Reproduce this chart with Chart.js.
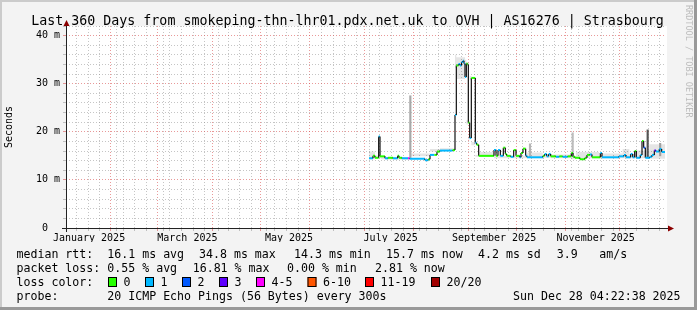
<!DOCTYPE html>
<html>
<head>
<meta charset="utf-8">
<script src="https://cdn.jsdelivr.net/npm/chart.js@4/dist/chart.umd.min.js"></script>
<style>
  body { margin: 0; background: #f3f3f3; }
  canvas { display: block; }
</style>
</head>
<body>
<canvas id="myChart" width="697" height="310"></canvas>
<script>
// ---- data ----
const titleText = 'Last 360 Days from smokeping-thn-lhr01.pdx.net.uk to OVH | AS16276 | Strasbourg';
const xLabels = ['January 2025', 'March 2025', 'May 2025', 'July 2025', 'September 2025', 'November 2025'];
const xLabelMonths = [0, 2, 4, 6, 8, 10];

const lossNames = ['0', '1', '2', '3', '4-5', '6-10', '11-19', '20/20'];
const lossColors = ['#26ff00', '#00b8ff', '#0059ff', '#5e00ff', '#ff00ff', '#ff5500', '#ff0000', '#a10000'];

const rttStats = ['16.1 ms avg', '34.8 ms max', '14.3 ms min', '15.7 ms now', '4.2 ms sd', '3.9', 'am/s'];
const lossStats = ['0.55 % avg', '16.81 % max', '0.00 % min', '2.81 % now'];
const probeText = '20 ICMP Echo Pings (56 Bytes) every 300s';
const dateText = 'Sun Dec 28 04:22:38 2025';

// days since start of the 360 day window, median rtt (ms), lost pings
const medDay  = [181.8, 184.2, 185.4, 187.6, 188.4, 191.4, 193.2, 196.2, 199, 199.8, 201.6, 205.2, 206.2,
                 215.4, 217.4, 218.4, 221, 222.6, 224.4, 232, 233.4, 234.2, 235.5, 236.4, 237.3, 238.2, 238.8,
                 239.4, 240.2, 240.9, 241.4, 242.2, 243.2, 245.6, 246.4, 247.6, 256.8, 258, 259.2, 260.6,
                 262.4, 263.6, 264.4, 266.8, 268.6, 270, 272.2, 273, 274.2, 275.8, 276.6, 286.2, 287.2,
                 288.4, 289.6, 290.8, 294, 296, 298, 301, 303.2, 304.2, 305.4, 308.4, 311.4, 312.6, 314.4,
                 315.6, 320.6, 321.6, 331.8, 334.8, 336, 338.8, 340, 341.2, 342.2, 344.6, 345.6, 346.6,
                 347.6, 350.4, 351.6, 353, 354, 356, 357.4];
const medRtt  = [14.5, 15.0, 14.6, 19.0, 14.9, 14.5, 14.6, 14.5, 15.0, 14.6, 14.5, 14.5, 14.4,
                 14.1, 14.3, 15.2, 15.2, 15.9, 16.1, 16.2, 23.5, 33.8, 34.1, 33.8, 34.5, 34.8, 34.2,
                 31.4, 34.2, 34.0, 21.9, 18.7, 31.2, 17.7, 17.3, 15.0, 16.2, 15.0, 16.2, 15.0,
                 16.7, 15.4, 15.0, 14.8, 16.2, 15.0, 14.7, 15.6, 16.5, 15.0, 14.7, 15.0, 15.4,
                 14.9, 15.4, 14.9, 14.8, 14.9, 14.8, 14.9, 15.6, 14.8, 14.6, 14.3, 14.6, 15.2, 15.3,
                 14.7, 15.6, 14.7, 14.9, 15.2, 14.7, 15.4, 14.7, 16.0, 14.6, 15.2, 18.1, 16.7,
                 14.6, 14.8, 15.2, 16.1, 15.9, 16.4, 15.8];
const medLoss = [1, 0, 0, 1, 0, 1, 0, 1, 0, 0, 1, 4, 1,
                 1, 0, 1, 0, 0, 1, 0, 1, 0, 1, 1, 1, 1, 1,
                 1, 0, 0, 0, 1, 0, 1, 0, 0, 1, 0, 1, 1,
                 0, 0, 0, 1, 0, 0, 1, 0, 0, 1, 1, 0, 1,
                 1, 1, 0, 1, 0, 1, 0, 0, 0, 0, 0, 0, 0, 1,
                 0, 1, 1, 1, 1, 1, 1, 1, 0, 1, 1, 0, 2,
                 1, 1, 1, 3, 1, 1, 1];
const lastDay = 359.4;

// smoke: spread of the 20 pings around the median
const smokeDay = [181.8, 185.4, 187.4, 189, 192, 206.4, 218.4, 224.4, 233.4, 234.2, 239.4, 240.2, 241.2,
                  242.2, 243.2, 245.6, 247.6, 256.8, 276.6, 286, 291, 303, 306, 319.8, 322, 334, 338, 341, 350, 352];
const smokeLo  = [14.3, 14.3, 14.4, 14.5, 14.3, 14.2, 14.9, 15.9, 16.0, 33.2, 31.0, 33.6, 21.5,
                  18.4, 30.8, 17.2, 14.8, 14.8, 14.5, 14.7, 14.6, 14.5, 14.3, 14.5, 14.5, 14.5, 14.5, 14.5, 14.5, 14.4];
const smokeHi  = [14.9, 15.9, 15.1, 15.3, 14.8, 14.7, 15.5, 16.4, 16.6, 36.0, 35.5, 35.0, 22.4,
                  19.0, 31.6, 17.9, 15.2, 15.8, 15.0, 15.7, 15.1, 15.3, 14.9, 15.8, 15.1, 15.5, 16.4, 15.4, 16.1, 17.4];

// single columns of smoke that stick out
const spikeDay   = [206.6, 278.4, 304.0, 349, 356.5];
const spikeLo    = [14.4, 14.8, 14.8, 14.6, 15.0];
const spikeHi    = [27.5, 17.5, 19.8, 20.4, 17.6];
const spikeShade = ['#a8a8a8', '#b4b4b4', '#bcbcbc', '#555555', '#a0a0a0'];

// ---- time helpers (window ends Sun Dec 28 04:22:38 2025) ----
const t0 = Date.UTC(2025, 0, 2, 4, 22, 38);
const dayOf = (y, m, d) => (Date.UTC(y, m, d) - t0) / 864e5;

const gridTicks = [];
const monthDays = [];
for (let m = 1; m < 12; m++) monthDays.push(dayOf(2025, m, 1));
monthDays.forEach(d => gridTicks.push({ value: d, major: true }));
for (let d = dayOf(2025, 0, 5); d < 360; d += 7) {
  if (!monthDays.some(md => Math.abs(md - d) < 0.5)) gridTicks.push({ value: d, major: false });
}
gridTicks.sort((a, b) => a.value - b.value);
const labelTicks = xLabelMonths.map(m => ({ value: dayOf(2025, m, 16) }));

// ---- build line data ----
const medPts = [];
medDay.forEach((d, i) => {
  if (i > 0) medPts.push({ x: d, y: medRtt[i - 1], loss: medLoss[i - 1] });
  medPts.push({ x: d, y: medRtt[i], loss: medLoss[i] });
});
medPts.push({ x: lastDay, y: medRtt[medRtt.length - 1], loss: medLoss[medLoss.length - 1] });

const smokeLoPts = smokeDay.map((d, i) => ({ x: d, y: smokeLo[i] }));
const smokeHiPts = smokeDay.map((d, i) => ({ x: d, y: smokeHi[i] }));
smokeLoPts.push({ x: lastDay, y: smokeLo[smokeLo.length - 1] });
smokeHiPts.push({ x: lastDay, y: smokeHi[smokeHi.length - 1] });

const spikePts = spikeDay.map((d, i) => ({ x: d, y: [spikeLo[i], spikeHi[i]] }));

const GRID = 'rgba(140,140,140,0.5)';
const MGRID = 'rgba(215,70,70,0.55)';
const MONO = '"DejaVu Sans Mono", monospace';

Chart.defaults.font.family = MONO;
Chart.defaults.color = '#000';

// background, frame, axes with arrows, title and the smokeping legend
const rrdFrame = {
  id: 'rrdFrame',
  beforeDraw(chart) {
    const { ctx, chartArea: a, width: w, height: h } = chart;
    ctx.save();
    ctx.fillStyle = '#f3f3f3';
    ctx.fillRect(0, 0, w, h);
    ctx.fillStyle = '#cbcbcb';
    ctx.fillRect(0, 0, w, 2);
    ctx.fillRect(0, 0, 2, h);
    ctx.fillStyle = '#999';
    ctx.fillRect(w - 3, 0, 3, h);
    ctx.fillRect(0, h - 3, w, 3);
    ctx.fillStyle = '#fff';
    ctx.fillRect(a.left, a.top, a.right - a.left + 1, a.bottom - a.top);
    ctx.restore();
  },
  afterDraw(chart) {
    const { ctx, chartArea: a } = chart;
    ctx.save();
    // axes
    ctx.strokeStyle = '#222';
    ctx.lineWidth = 1;
    ctx.beginPath();
    ctx.moveTo(a.left - 4, a.bottom + 0.5);
    ctx.lineTo(a.right + 3, a.bottom + 0.5);
    ctx.moveTo(a.left + 0.5, a.bottom + 4);
    ctx.lineTo(a.left + 0.5, a.top - 2);
    ctx.stroke();
    ctx.fillStyle = '#8b0000';
    ctx.beginPath();
    ctx.moveTo(a.right + 2, a.bottom - 2.5);
    ctx.lineTo(a.right + 8, a.bottom + 0.5);
    ctx.lineTo(a.right + 2, a.bottom + 3.5);
    ctx.fill();
    ctx.beginPath();
    ctx.moveTo(a.left - 2.5, a.top);
    ctx.lineTo(a.left + 0.5, a.top - 6);
    ctx.lineTo(a.left + 3.5, a.top);
    ctx.fill();

    // title
    ctx.fillStyle = '#000';
    ctx.font = '13.3px ' + MONO;
    ctx.textAlign = 'center';
    ctx.textBaseline = 'alphabetic';
    ctx.fillText(titleText, 347.5, 24.5);

    // legend rows
    ctx.font = '11.6px ' + MONO;
    ctx.textAlign = 'left';
    const rows = [258, 272, 286, 300];
    ctx.fillText('median rtt:', 16.5, rows[0]);
    const rttX = [107.3, 199, 294, 386, 478, 556.7, 599.3];
    rttStats.forEach((s, i) => ctx.fillText(s, rttX[i], rows[0]));
    ctx.fillText('packet loss:', 16.5, rows[1]);
    const lossX = [107.3, 192.7, 287, 375];
    lossStats.forEach((s, i) => ctx.fillText(s, lossX[i], rows[1]));
    ctx.fillText('loss color:', 16.5, rows[2]);
    const boxX = [108, 145, 182, 219, 256, 307.5, 365, 431];
    lossNames.forEach((s, i) => {
      ctx.fillStyle = lossColors[i];
      ctx.fillRect(boxX[i], rows[2] - 9, 9, 10);
      ctx.strokeStyle = '#000';
      ctx.strokeRect(boxX[i] + 0.5, rows[2] - 8.5, 8, 9);
      ctx.fillStyle = '#000';
      ctx.fillText(s, boxX[i] + 15.5, rows[2]);
    });
    ctx.fillText('probe:', 16.5, rows[3]);
    ctx.fillText(probeText, 107.3, rows[3]);
    ctx.fillText(dateText, 513, rows[3]);

    // rrdtool watermark
    ctx.translate(688.5, 5);
    ctx.rotate(Math.PI / 2);
    ctx.font = '8.5px ' + MONO;
    ctx.fillStyle = '#bdbdbd';
    ctx.textBaseline = 'middle';
    ctx.fillText('RRDTOOL / TOBI OETIKER', 0, 0);
    ctx.restore();
  }
};

const ctx = document.getElementById('myChart');

new Chart(ctx, {
  type: 'line',
  data: {
    datasets: [
      {
        label: 'smoke lo',
        data: smokeLoPts,
        stepped: 'after',
        borderWidth: 0,
        pointRadius: 0,
        fill: false,
        order: 3
      },
      {
        label: 'smoke hi',
        data: smokeHiPts,
        stepped: 'after',
        borderWidth: 0,
        pointRadius: 0,
        fill: '-1',
        backgroundColor: 'rgba(0,0,0,0.1)',
        order: 3
      },
      {
        type: 'bar',
        label: 'smoke spikes',
        data: spikePts,
        backgroundColor: spikeShade,
        barThickness: 1.5,
        maxBarThickness: 2,
        order: 2
      },
      {
        label: 'median rtt',
        data: medPts,
        pointRadius: 0,
        borderWidth: 2,
        borderColor: lossColors[0],
        segment: {
          borderColor: c => c.p0.parsed.x === c.p1.parsed.x ? '#111' : lossColors[medPts[c.p0DataIndex].loss],
          borderWidth: c => c.p0.parsed.x === c.p1.parsed.x ? 1.2 : 2
        },
        order: 1
      }
    ]
  },
  options: {
    responsive: false,
    devicePixelRatio: 1,
    animation: false,
    events: [],
    layout: { padding: { left: 0, top: 26, right: 31, bottom: 68 } },
    plugins: {
      legend: { display: false },
      tooltip: { enabled: false }
    },
    scales: {
      x: {
        type: 'linear',
        position: 'bottom',
        min: 0,
        max: 360,
        offset: false,
        afterBuildTicks: s => { s.ticks = gridTicks.map(t => ({ ...t })); },
        afterFit: s => { s.height = 0; },
        ticks: { display: false, autoSkip: false },
        grid: {
          color: c => (c.tick && c.tick.major ? MGRID : GRID),
          tickColor: c => (c.tick && c.tick.major ? MGRID : GRID),
          tickLength: 3,
          lineWidth: 1
        },
        border: { display: false, dash: [1, 2] }
      },
      x2: {
        type: 'linear',
        position: 'bottom',
        min: 0,
        max: 360,
        offset: false,
        afterBuildTicks: s => { s.ticks = labelTicks.map(t => ({ ...t })); },
        afterFit: s => { s.height = 14; },
        ticks: {
          autoSkip: false,
          maxRotation: 0,
          padding: 4,
          font: { size: 10 },
          callback: (v, i) => xLabels[i]
        },
        grid: { display: false, drawTicks: false },
        border: { display: false }
      },
      y: {
        type: 'linear',
        min: 0,
        max: 42,
        afterBuildTicks: s => {
          const t = [];
          for (let v = 0; v <= 42; v += 2) t.push({ value: v });
          s.ticks = t;
        },
        afterFit: s => { s.width = 66; },
        ticks: {
          autoSkip: false,
          padding: 3,
          font: { size: 10 },
          callback: v => (v % 10 === 0 ? (v === 0 ? '0  ' : v + ' m') : '')
        },
        grid: {
          color: c => (c.tick && c.tick.value % 10 === 0 ? MGRID : GRID),
          tickColor: c => (c.tick && c.tick.value % 10 === 0 ? MGRID : GRID),
          tickLength: 3,
          lineWidth: 1
        },
        border: { display: false, dash: [1, 2] },
        title: {
          display: true,
          text: 'Seconds',
          font: { size: 10 },
          color: '#000',
          padding: { top: 3, bottom: 0 }
        }
      }
    }
  },
  plugins: [rrdFrame]
});
</script>
</body>
</html>
